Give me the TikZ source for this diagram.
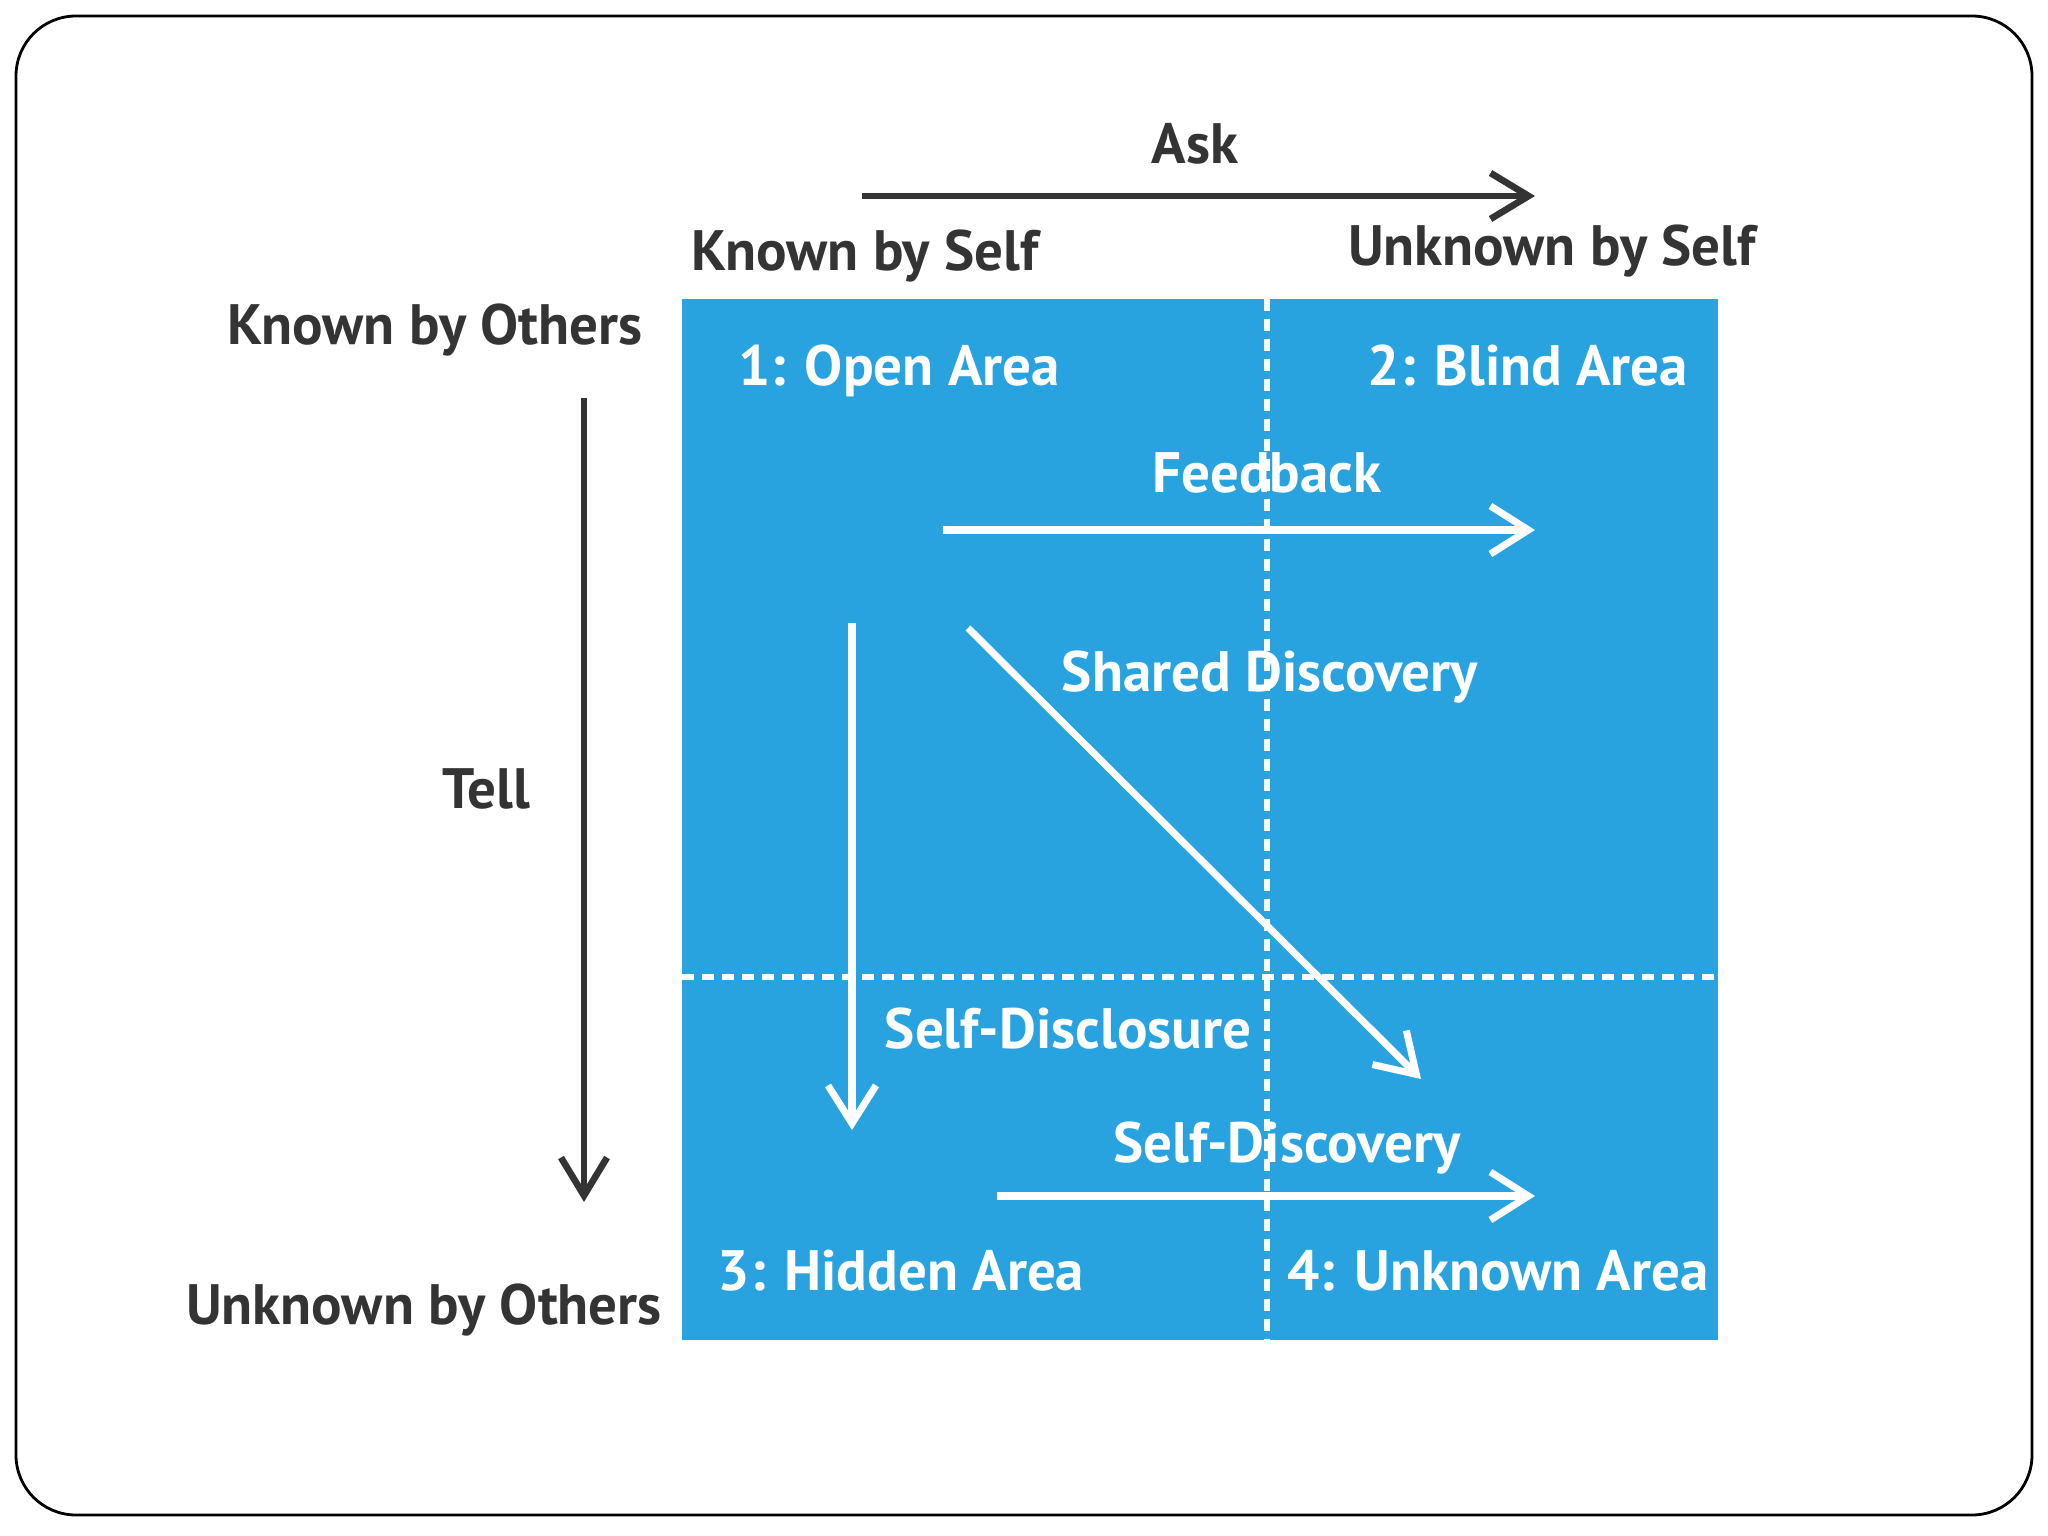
\documentclass[tikz,border=0pt]{standalone}
\usepackage{fontspec}
\setmainfont{PT Sans}
\usetikzlibrary{arrows.meta}

\definecolor{johariblue}{RGB}{41,163,223}
\definecolor{inkgray}{RGB}{52,52,52}

\begin{document}
\begin{tikzpicture}[
    x=1cm, y=-1cm,
    every node/.style={font=\fontsize{16.2}{18}\selectfont\bfseries, inner sep=1pt},
    axislabel/.style={text=inkgray},
    arealabel/.style={text=white},
    darr/.style={-{Straight Barb[length=0.38cm, width=0.46cm, line width=1.9pt]}, line width=1.9pt, color=inkgray},
    warr/.style={-{Straight Barb[length=0.38cm, width=0.48cm, line width=2pt]}, line width=2pt, color=white},
    divider/.style={white, line width=1.5pt, dash pattern=on 0.12cm off 0.08cm},
    frame/.style={draw=black, line width=0.8pt, rounded corners=0.6cm},
]

\useasboundingbox (0,0) rectangle (20.48,15.36);
\draw[frame] (0.16,0.16) rectangle (20.32,15.15);

% the window
\fill[johariblue] (6.82,2.99) rectangle (17.18,13.40);
\coordinate (vtop) at (12.67,2.99);
\coordinate (vbot) at (12.67,13.40);
\coordinate (hleft) at (6.82,9.77);
\coordinate (hright) at (17.18,9.77);
\draw[divider] (vtop) -- (vbot);
\draw[divider] (hleft) -- (hright);

% axes
\node[axislabel] (ask) at (11.95,1.44) {Ask};
\node[axislabel] (kself) at (8.65,2.56) {Known by Self};
\node[axislabel] (uself) at (15.52,2.51) {Unknown by Self};
\node[axislabel] (kothers) at (4.35,3.30) {Known by Others};
\node[axislabel] (uothers) at (4.24,13.10) {Unknown by Others};
\node[axislabel] (tell) at (4.86,7.89) {Tell};

\coordinate (askstart) at (8.62,1.96);
\coordinate (askend) at (15.35,1.96);
\coordinate (tellstart) at (5.84,3.98);
\coordinate (tellend) at (5.84,12.02);
\draw[darr] (askstart) -- (askend);
\draw[darr] (tellstart) -- (tellend);

% quadrants
\node[arealabel] (open) at (8.99,3.71) {1: Open Area};
\node[arealabel] (blind) at (15.28,3.66) {2: Blind Area};
\node[arealabel] (hidden) at (9.01,12.71) {3: Hidden Area};
\node[arealabel] (unknown) at (14.98,12.71) {4: Unknown Area};

% movements
\node[arealabel] (feedback) at (12.67,4.73) {Feedback};
\node[arealabel] (shared) at (12.70,6.77) {Shared Discovery};
\node[arealabel] (disclosure) at (10.68,10.29) {Self-Disclosure};
\node[arealabel] (discovery) at (12.87,11.48) {Self-Discovery};

\coordinate (fbstart) at (9.43,5.30);
\coordinate (fbend) at (15.35,5.30);
\coordinate (sdstart) at (8.52,6.23);
\coordinate (sdend) at (8.52,11.30);
\coordinate (shstart) at (9.68,6.28);
\coordinate (shend) at (14.21,10.79);
\coordinate (dcstart) at (9.97,11.96);
\coordinate (dcend) at (15.35,11.96);
\draw[warr] (fbstart) -- (fbend);
\draw[warr] (sdstart) -- (sdend);
\draw[warr] (shstart) -- (shend);
\draw[warr] (dcstart) -- (dcend);

\end{tikzpicture}
\end{document}
